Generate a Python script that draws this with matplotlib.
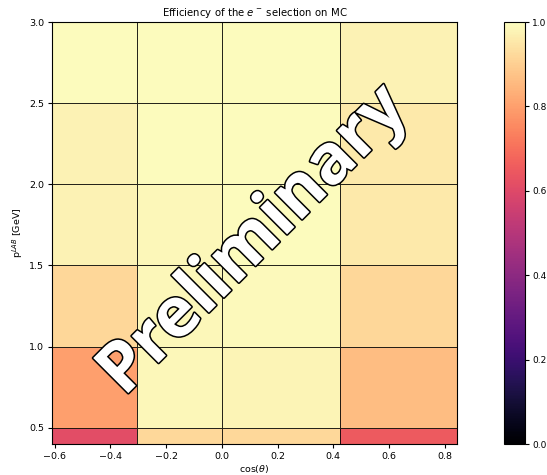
import numpy as np
import matplotlib; matplotlib.use('Agg')
import matplotlib.pyplot as plt
import matplotlib.patheffects as pe

# bin edges
COS_EDGES = [-0.61, -0.305, 0.0, 0.424, 0.844]
P_EDGES = [0.4, 0.5, 1.0, 1.5, 2.0, 2.5, 3.0]
# efficiency per (p bin, cos bin), rows from low p to high p
EFF = np.array([
    [0.61, 0.92, 0.92, 0.65],
    [0.80, 0.985, 0.98, 0.86],
    [0.915, 0.985, 0.99, 0.915],
    [0.975, 0.985, 0.995, 0.955],
    [0.975, 0.995, 0.995, 0.955],
    [0.995, 0.995, 0.995, 0.975],
])

plt.rcParams['font.size'] = 6.8
plt.rcParams['xtick.major.size'] = 3; plt.rcParams['ytick.major.size'] = 3
plt.rcParams['xtick.major.pad'] = 2.5; plt.rcParams['ytick.major.pad'] = 2.5
fig = plt.figure(figsize=(5.47, 4.75), dpi=100)
ax = fig.add_axes([52/547, 1 - 444/475, 405/547, 422/475])
cax = fig.add_axes([504/547, 1 - 444/475, 21/547, 422/475])

mesh = ax.pcolormesh(COS_EDGES, P_EDGES, EFF, cmap='magma', vmin=0, vmax=1,
                     edgecolors=(0, 0, 0, 0.85), linewidth=0.7)
cb = fig.colorbar(mesh, cax=cax)
cb.set_ticks([0.0, 0.2, 0.4, 0.6, 0.8, 1.0])
cax.tick_params(labelsize=6.5, pad=2)

ax.set_xlim(COS_EDGES[0], COS_EDGES[-1]); ax.set_ylim(P_EDGES[0], P_EDGES[-1])
ax.set_xticks([-0.6, -0.4, -0.2, 0.0, 0.2, 0.4, 0.6, 0.8])
ax.set_yticks([0.5, 1.0, 1.5, 2.0, 2.5, 3.0])
ax.set_xlabel(r'cos($\theta$)', labelpad=2)
ax.set_ylabel(r'p$^{LAB}$ [GeV]', labelpad=3)
ax.set_title(r'Efficiency of the $e^-$ selection on MC', fontsize=7.3, pad=4)

ax.text(0.5, 0.48, 'Preliminary', transform=ax.transAxes, rotation=45,
        ha='center', va='center', fontsize=50, fontweight='bold', family='Open Sans',
        color='white', path_effects=[pe.withStroke(linewidth=2.2, foreground='black')])

fig.savefig('out.png', dpi=100)
